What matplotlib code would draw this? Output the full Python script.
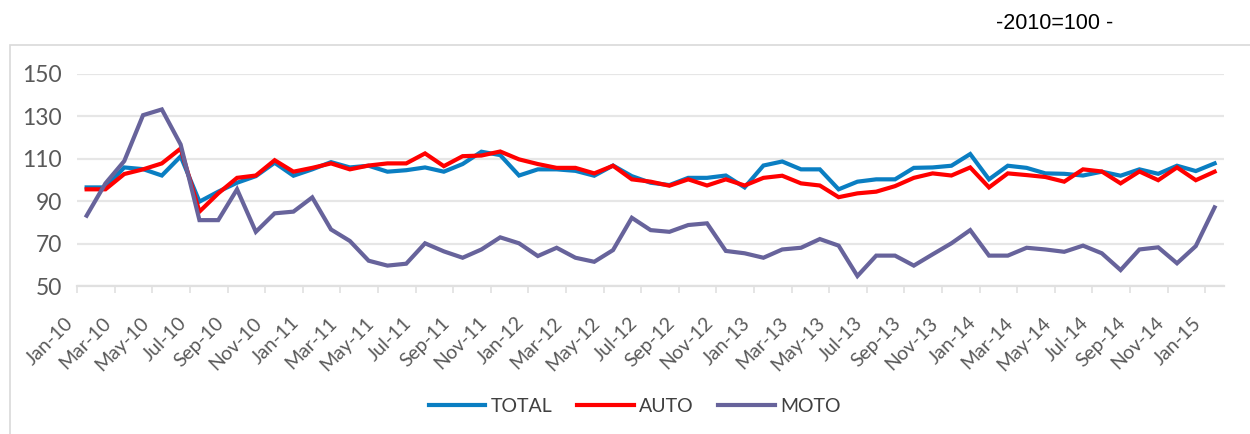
import matplotlib
matplotlib.use('Agg')
import matplotlib.pyplot as plt
import matplotlib.transforms as mtransforms
from matplotlib.patches import Rectangle

# Monthly index values, Jan-10 .. Jan-15 (2010=100)
months = ['Jan', 'Feb', 'Mar', 'Apr', 'May', 'Jun', 'Jul', 'Aug', 'Sep', 'Oct', 'Nov', 'Dec']
dates = [f'{months[i % 12]}-{10 + i // 12}' for i in range(61)]

total = [96.4, 96.4, 105.8, 105.0, 102.0, 111.0, 89.7, 94.4, 98.6, 101.7,
         108.0, 101.9, 104.9, 108.3, 105.8, 106.6, 103.8, 104.5, 105.8, 103.8,
         107.4, 113.2, 111.6, 102.0, 104.9, 104.9, 104.2, 101.9, 106.7, 101.7,
         98.6, 97.5, 100.9, 100.9, 102.0, 96.4, 106.7, 108.6, 104.9, 104.9,
         95.5, 99.1, 100.2, 100.2, 105.6, 105.8, 106.6, 112.1, 100.2, 106.6,
         105.6, 103.0, 102.8, 102.0, 103.8, 101.9, 104.9, 102.8, 106.6, 104.1,
         107.7]
auto = [95.5, 95.5, 102.7, 104.9, 107.7, 114.7, 85.0, 93.6, 100.9, 102.0,
        109.2, 103.8, 105.6, 107.7, 104.9, 106.7, 107.7, 107.7, 112.4, 106.4,
        111.1, 111.4, 113.3, 109.6, 107.4, 105.6, 105.6, 103.0, 106.6, 100.2,
        99.1, 97.2, 100.2, 97.3, 100.2, 97.3, 100.9, 101.9, 98.3, 97.3,
        91.8, 93.6, 94.4, 97.0, 100.9, 103.0, 102.0, 105.8, 96.4, 103.0,
        102.2, 101.3, 99.1, 104.9, 103.9, 98.3, 103.9, 99.8, 105.8, 99.8,
        103.8]
moto = [83.1, 98.3, 108.8, 130.4, 133.1, 116.6, 81.0, 81.0, 95.5, 75.5,
        84.2, 85.0, 91.7, 76.6, 71.2, 61.9, 59.6, 60.5, 70.1, 66.3,
        63.3, 67.2, 72.9, 70.1, 64.1, 68.0, 63.3, 61.4, 66.9, 82.1,
        76.3, 75.5, 78.7, 79.5, 66.5, 65.4, 63.3, 67.2, 68.0, 72.1,
        69.0, 54.7, 64.3, 64.3, 59.6, 64.9, 70.1, 76.3, 64.3, 64.3,
        68.0, 67.2, 66.1, 69.0, 65.4, 57.5, 67.2, 68.2, 60.7, 68.8,
        87.0]

series = [('TOTAL', total, '#0A7EC2'), ('AUTO', auto, '#FF0000'), ('MOTO', moto, '#67639B')]

fig = plt.figure(figsize=(12.5, 4.34), dpi=100)
ax = fig.add_axes([0.0618, 0.341, 0.9174, 0.4896])

x = list(range(len(dates)))
for name, vals, col in series:
    ax.plot(x, vals, color=col, lw=3, label=name, solid_joinstyle='miter')

ax.set_xlim(-0.5, len(dates) - 0.5)
ax.set_ylim(50, 150)
ax.set_yticks([50, 70, 90, 110, 130, 150])
ax.yaxis.grid(True, color='#E6E6E6', lw=1.6)
ax.set_axisbelow(True)
for s in ['left', 'right', 'top']:
    ax.spines[s].set_visible(False)
ax.spines['bottom'].set_color('#E0E0E0')
ax.spines['bottom'].set_linewidth(1.6)

ax.tick_params(axis='y', length=0, pad=11, labelsize=16.5, labelcolor='#595959')
for lab in ax.get_yticklabels():
    lab.set_family('Lato')

ax.set_xticks(x[::2])
ax.set_xticklabels(dates[::2], rotation=45, ha='right', va='center',
                   rotation_mode='anchor', fontsize=14, color='#595959', family='Lato')
ax.set_xticks([i - 0.5 for i in range(0, len(dates) + 1, 2)], minor=True)
ax.tick_params(axis='x', which='major', length=0, pad=0)
ax.tick_params(axis='x', which='minor', length=5, width=1.2, color='#E0E0E0')
off = mtransforms.ScaledTranslation(-0.16, -0.34, fig.dpi_scale_trans)
for lab in ax.get_xticklabels():
    lab.set_transform(lab.get_transform() + off)

fig.text(0.844, 0.945, '-2010=100 -', ha='center', va='center', fontsize=15.5,
         family='Liberation Sans', color='black')

fig.patches.append(Rectangle((9.5 / 1250, -0.1), 1.1, 1 - 45 / 434 + 0.1,
                             transform=fig.transFigure, fill=False,
                             edgecolor='#D9D9D9', lw=1.2))

leg = fig.legend(loc='center', bbox_to_anchor=(0.508, 0.063), ncol=3, frameon=False,
                 handlelength=2.9, handletextpad=0.3, columnspacing=1.25,
                 prop={'family': 'Lato', 'size': 14})
for t in leg.get_texts():
    t.set_color('#404040')

fig.savefig('out.png', dpi=100)
